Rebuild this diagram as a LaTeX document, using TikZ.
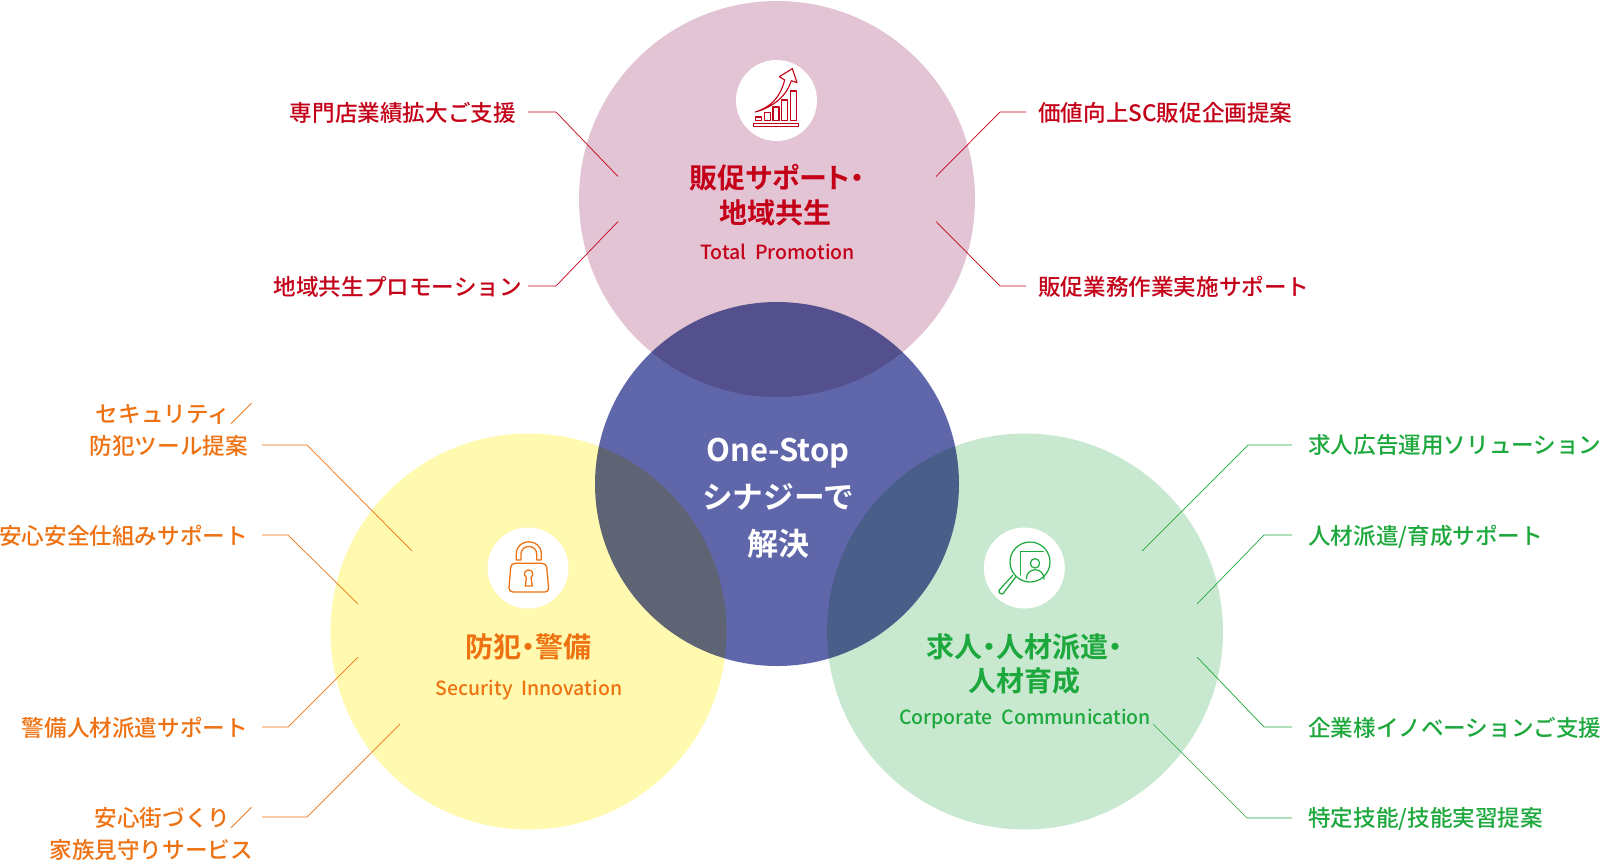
\documentclass[tikz,border=0pt]{standalone}
\usepackage{fontspec}
\setmainfont{Noto Sans CJK JP Medium}[BoldFont={Noto Sans CJK JP Bold}]
\newfontfamily\headfont{Noto Sans CJK JP Bold}[RawFeature=+palt]
\definecolor{cpink}{HTML}{E3C4D4}
\definecolor{cblue}{HTML}{5F67AA}
\definecolor{cyellow}{HTML}{FFFAAF}
\definecolor{cgreen}{HTML}{C8E9D0}
\definecolor{tred}{HTML}{C40018}
\definecolor{torange}{HTML}{EE7212}
\definecolor{tgreen}{HTML}{1CA83C}
\tikzset{
  bigcirc/.style={circle,inner sep=0pt,minimum size=396pt},
  iconbg/.style={circle,fill=white,inner sep=0pt,minimum size=81pt},
  lbl/.style={inner sep=0pt,font=\fontsize{22.6}{26}\selectfont},
  lblL/.style={lbl,anchor=east},
  lblR/.style={lbl,anchor=west},
  head/.style={inner sep=0pt,anchor=center,font=\fontsize{28}{32}\headfont},
  sub/.style={inner sep=0pt,anchor=center,font=\fontsize{19.5}{24}\selectfont},
  ctr/.style={inner sep=0pt,anchor=center,text=white,font=\fontsize{31}{34}\headfont},
  conn/.style={line width=0.7pt},
  ico/.style={line width=1.3pt,line join=round,line cap=round}
}
\begin{document}
\begin{tikzpicture}[x=1pt,y=-1pt]
\useasboundingbox (0,0) rectangle (1600,860);
\fill[white] (0,0) rectangle (1600,860);
% circles
\node[bigcirc,fill=cpink] (ctop) at (777,199) {};
\node[bigcirc,fill=cyellow] (cleft) at (528.5,631.5) {};
\node[bigcirc,fill=cgreen] (cright) at (1025,631.5) {};
\begin{scope}[blend mode=multiply]
\node[circle,inner sep=0pt,minimum size=364pt,fill=cblue] (cmid) at (777,484) {};
\end{scope}
% icon discs
\node[iconbg] (itop) at (776.5,100.5) {};
\node[iconbg] (ileft) at (528,568) {};
\node[iconbg] (iright) at (1024.3,568) {};
% chart icon
\begin{scope}[shift={(680,30)},x=0.3333pt,y=-0.3333pt,draw=tred,ico,line width=1.1pt]
\draw (220,280) rectangle (355,290);
\draw (227,261) rectangle (245,271);
\draw (253,247) rectangle (271,271);
\draw (279,231) rectangle (297,271);
\draw (305,210) rectangle (323,271);
\draw (332,183) rectangle (350,271);
\draw (226,246) .. controls (270,232) and (300,205) .. (314,150) -- (298,140) -- (337,116) -- (351,158) -- (334,152) .. controls (322,195) and (280,232) .. (226,246) -- cycle;
\end{scope}
% lock icon
\begin{scope}[shift={(460,510)},x=0.3333pt,y=-0.3333pt,draw=torange,ico,line width=1.3pt]
\draw[rounded corners=4pt] (153,160) -- (259,160) -- (267,246) -- (146,246) -- cycle;
\draw (169,150) -- (169,132) .. controls (169,83) and (244,83) .. (244,132) -- (244,150) -- (230,150) -- (230,132) .. controls (230,102) and (183,102) .. (183,132) -- (183,150) -- cycle;
\draw (199,203) .. controls (188,192) and (196,180) .. (206,180) .. controls (216,180) and (224,192) .. (213,203) -- (217,228) -- (196,228) -- cycle;
\end{scope}
% search icon
\begin{scope}[shift={(960,520)},x=0.3333pt,y=-0.3333pt,draw=tgreen,ico,line width=1.2pt]
\draw (210,126) circle [radius=60];
\draw (250,95) -- (182,95) -- (182,165);
\draw (225,130) circle [radius=14];
\draw (199,177) .. controls (199,140) and (252,140) .. (252,177);
\draw (169,169) -- (129,221) .. controls (122,225) and (114,216) .. (118,210) -- (158,166);
\end{scope}
% center text
\node[ctr] (m1) at (778,453.5) {One-Stop};
\node[ctr,font=\fontsize{30.7}{34}\selectfont\bfseries] (m2) at (778,497) {シナジーで};
\node[ctr] (m3) at (778.5,544) {解決};
% top block
\node[head,text=tred] (t1) at (777,177.5) {販促サポート・};
\node[head,text=tred] (t2) at (775,212.5) {地域共生};
\node[sub,text=tred] (t3) at (777.5,252) {Total\ \ Promotion};
\node[head,text=torange] (l1) at (528.5,647) {防犯・警備};
\node[sub,text=torange] (l2) at (529,690) {Security\ \ Innovation};
\node[head,text=tgreen] (r1) at (1024,647) {求人・人材派遣・};
\node[head,text=tgreen] (r2) at (1024,681) {人材育成};
\node[sub,text=tgreen] (r3) at (1025,719) {Corporate\ \ Communication};
% labels
\begin{scope}[text=tred]
\node[lblL] (a1) at (516,112.5) {専門店業績拡大ご支援};
\node[lblL] (a2) at (522,286.5) {地域共生プロモーション};
\node[lblR] (a3) at (1038,112.5) {価値向上SC販促企画提案};
\node[lblR] (a4) at (1038,286.5) {販促業務作業実施サポート};
\end{scope}
\begin{scope}[text=torange]
\node[lblL] (b0) at (253,414) {セキュリティ／};
\node[lblL] (b1) at (248,446) {防犯ツール提案};
\node[lblL] (b2) at (248,536) {安心安全仕組みサポート};
\node[lblL] (b3) at (248,728) {警備人材派遣サポート};
\node[lblL] (b4) at (253,818) {安心街づくり／};
\node[lblL] (b5) at (253,850) {家族見守りサービス};
\end{scope}
\begin{scope}[text=tgreen]
\node[lblR] (c1) at (1308,445) {求人広告運用ソリューション};
\node[lblR] (c2) at (1308,537) {人材派遣/育成サポート};
\node[lblR] (c3) at (1308,728) {企業様イノベーションご支援};
\node[lblR] (c4) at (1308,818.5) {特定技能/技能実習提案};
\end{scope}
% connector points
\coordinate (pa1) at (528,112); \coordinate (qa1) at (556,112); \coordinate (ea1) at (618,176.5);
\coordinate (pa2) at (528,286); \coordinate (qa2) at (556,286); \coordinate (ea2) at (618,221.5);
\coordinate (pa3) at (1026,112); \coordinate (qa3) at (1000,112); \coordinate (ea3) at (936,176.5);
\coordinate (pa4) at (1026,286); \coordinate (qa4) at (1000,286); \coordinate (ea4) at (936,221.5);
\coordinate (pb1) at (262,445); \coordinate (qb1) at (307,445); \coordinate (eb1) at (412,551);
\coordinate (pb2) at (262,535); \coordinate (qb2) at (288,535); \coordinate (eb2) at (358,604);
\coordinate (pb3) at (262,727); \coordinate (qb3) at (288,727); \coordinate (eb3) at (358,657);
\coordinate (pb4) at (262,817); \coordinate (qb4) at (307,817); \coordinate (eb4) at (400,724);
\coordinate (pc1) at (1292,445); \coordinate (qc1) at (1248,445); \coordinate (ec1) at (1142,551);
\coordinate (pc2) at (1292,535); \coordinate (qc2) at (1264,535); \coordinate (ec2) at (1197,604);
\coordinate (pc3) at (1292,727); \coordinate (qc3) at (1264,727); \coordinate (ec3) at (1197,657);
\coordinate (pc4) at (1292,818); \coordinate (qc4) at (1247,818); \coordinate (ec4) at (1153,724);
\foreach \i in {a1,a2,a3,a4} \draw[conn,draw=tred] (p\i) -- (q\i) -- (e\i);
\foreach \i in {b1,b2,b3,b4} \draw[conn,draw=torange] (p\i) -- (q\i) -- (e\i);
\foreach \i in {c1,c2,c3,c4} \draw[conn,draw=tgreen] (p\i) -- (q\i) -- (e\i);
\end{tikzpicture}
\end{document}
